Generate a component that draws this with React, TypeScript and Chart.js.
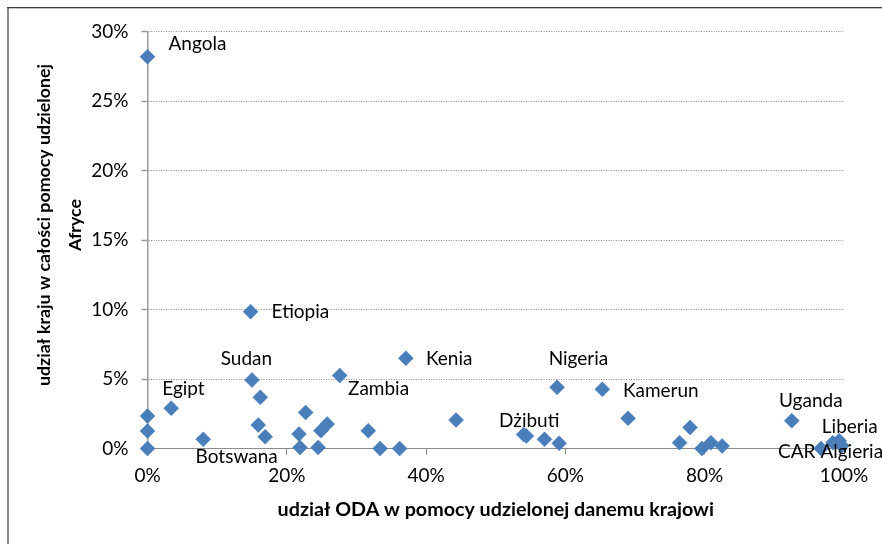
import React, { useEffect, useRef } from 'react';
import { Chart, registerables } from 'chart.js';

Chart.register(...registerables);

// ---- data (x: share of ODA in aid to the country, y: country's share of all aid to Africa), in % ----
const pointNames = [
  'Angola', 'Etiopia', 'Sudan', 'Kenia', 'Zambia', 'Egipt', 'Botswana', 'Nigeria', 'Kamerun', 'Dżibuti',
  'Uganda', 'Liberia', 'CAR', 'Algieria',
  '', '', '', '', '', '', '', '', '', '', '', '', '', '', '', '', '', '', '', '', '', '', '', '', '', '',
];
const odaShare = [
  0, 14.8, 15.0, 37.1, 27.6, 3.4, 8.0, 58.8, 65.3, 54.4,
  92.5, 99.3, 96.7, 99.7,
  0, 0, 0, 15.9, 16.9, 16.2, 22.7, 21.75, 21.9, 24.5, 24.9, 25.8, 31.7, 33.4, 36.2, 44.3,
  54.0, 57.0, 59.1, 69.0, 76.4, 77.9, 79.6, 80.9, 82.5, 98.4,
];
const aidShare = [
  28.2, 9.85, 4.93, 6.5, 5.25, 2.9, 0.66, 4.4, 4.26, 0.9,
  2.0, 0.56, 0.0, 0.2,
  2.34, 1.26, 0, 1.69, 0.85, 3.68, 2.6, 1.04, 0.08, 0.08, 1.28, 1.76, 1.28, 0, 0, 2.05,
  1.0, 0.66, 0.37, 2.17, 0.42, 1.52, 0, 0.42, 0.18, 0.42,
];
const xTicks = [0, 20, 40, 60, 80, 100];
const yTicks = [0, 5, 10, 15, 20, 25, 30];
const xTitle = 'udział ODA w pomocy udzielonej danemu krajowi';
const yTitleLines = ['udział kraju w całości pomocy udzielonej', 'Afryce'];

// ---- label placement (offset of text left edge / middle from marker centre) ----
const labelOffsets: Record<string, [number, number]> = {
  Angola: [21, -12.5],
  Etiopia: [21, 0.3],
  Sudan: [-31.3, -20.7],
  Kenia: [20, 1],
  Zambia: [8.3, 13],
  Egipt: [-9, -19],
  Botswana: [-7.6, 17.4],
  Nigeria: [-8.4, -28.3],
  Kamerun: [20.6, 1.5],
  'Dżibuti': [-27.3, -14.7],
  Uganda: [-12.7, -19.7],
  Liberia: [-17.3, -13.7],
  CAR: [-43, 3],
  Algieria: [-21.5, 6],
};

const FONT = 'Lato, "Open Sans", sans-serif';

const decorPlugin = {
  id: 'decor',
  beforeDraw(chart: any) {
    const ctx = chart.ctx;
    ctx.save();
    ctx.fillStyle = '#ffffff';
    ctx.fillRect(0, 0, chart.width, chart.height);
    ctx.fillStyle = '#8c8c8c';
    ctx.fillRect(7, 7, 2, chart.height - 7);
    ctx.fillStyle = '#3a3a3a';
    ctx.fillRect(7, 7, chart.width - 7, 1.3);
    ctx.restore();
  },
  afterDraw(chart: any) {
    const ctx = chart.ctx;
    const area = chart.chartArea;
    ctx.save();
    ctx.fillStyle = '#000';
    ctx.textAlign = 'center';
    ctx.textBaseline = 'middle';
    ctx.font = `bold 19.7px ${FONT}`;
    ctx.fillText(xTitle, (area.left + area.right) / 2, 510);
    ctx.font = `bold 17.8px ${FONT}`;
    ctx.translate(0, 225);
    ctx.rotate(-Math.PI / 2);
    ctx.fillText(yTitleLines[0], 0, 44.5);
    ctx.fillText(yTitleLines[1], 0, 75);
    ctx.restore();
  },
};

const labelPlugin = {
  id: 'pointNames',
  afterDatasetsDraw(chart: any) {
    const ctx = chart.ctx;
    const meta = chart.getDatasetMeta(0);
    ctx.save();
    ctx.font = `19px ${FONT}`;
    ctx.fillStyle = '#000';
    ctx.textAlign = 'left';
    ctx.textBaseline = 'middle';
    pointNames.forEach((name, i) => {
      if (!name) return;
      const el = meta.data[i];
      const off = labelOffsets[name] || [10, 0];
      ctx.fillText(name, el.x + off[0], el.y + off[1]);
    });
    ctx.restore();
  },
};

export default function App() {
  const ref = useRef<HTMLCanvasElement | null>(null);
  useEffect(() => {
    let chart: Chart | null = null;
    let cancelled = false;
    const build = () => {
      if (cancelled || !ref.current) return;
      const data = odaShare.map((x, i) => ({ x, y: aidShare[i] }));
      chart = new Chart(ref.current, {
        type: 'scatter',
        data: {
          datasets: [
            {
              data,
              clip: false,
              pointStyle: 'rectRot',
              pointRadius: 7.5,
              pointHoverRadius: 7.5,
              backgroundColor: '#4a7ebb',
              borderColor: '#4a7ebb',
              borderWidth: 0.5,
            } as any,
          ],
        },
        options: {
          responsive: false,
          animation: false,
          devicePixelRatio: 1,
          layout: { padding: { left: 0, top: 31.7, right: 38, bottom: 0 } },
          plugins: { legend: { display: false }, tooltip: { enabled: false } },
          scales: {
            x: {
              type: 'linear',
              min: 0,
              max: 100,
              afterFit: (s: any) => { s.height = 95.5; },
              afterBuildTicks: (s: any) => { s.ticks = xTicks.map((v) => ({ value: v })); },
              ticks: {
                callback: (v: any) => v + '%',
                font: { family: FONT, size: 19 },
                color: '#000',
                padding: 10,
                maxRotation: 0,
              },
              grid: { drawOnChartArea: false, drawTicks: true, tickLength: 6, tickColor: '#8a8a8a', tickWidth: 1 },
              border: { display: true, color: '#8a8a8a', width: 1 },
            },
            y: {
              type: 'linear',
              min: 0,
              max: 30,
              afterFit: (s: any) => { s.width = 147.5; },
              afterBuildTicks: (s: any) => { s.ticks = yTicks.map((v) => ({ value: v })); },
              ticks: {
                callback: (v: any) => v + '%',
                font: { family: FONT, size: 19 },
                color: '#000',
                padding: 13,
              },
              grid: { color: '#858585', lineWidth: 1, drawTicks: true, tickLength: 6, tickColor: '#9a9a9a', tickWidth: 1.5, tickBorderDash: [] },
              border: { display: true, color: '#a0a0a0', width: 1.6, dash: [1, 1.5] },
            },
          },
        },
        plugins: [decorPlugin, labelPlugin],
      });
    };
    const fontsApi: any = (document as any).fonts;
    if (fontsApi && fontsApi.load) {
      Promise.all([fontsApi.load(`19px Lato`), fontsApi.load(`bold 19px Lato`)]).then(build, build);
    } else {
      build();
    }
    return () => {
      cancelled = true;
      if (chart) chart.destroy();
    };
  }, []);
  return (
    <div style={{ position: 'absolute', left: 0, top: 0, width: 882, height: 544, overflow: 'hidden' }}>
      <canvas ref={ref} width={882} height={544} style={{ display: 'block', width: 882, height: 544 }} />
    </div>
  );
}
